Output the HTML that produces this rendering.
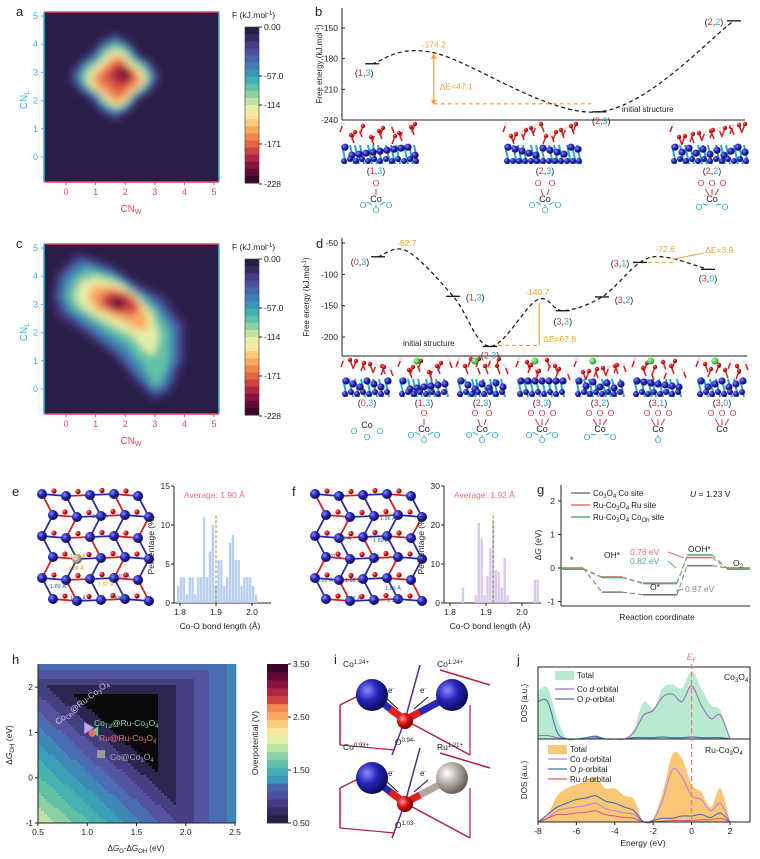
<!DOCTYPE html>
<html><head><meta charset="utf-8"><style>
html,body{margin:0;padding:0;background:#fff}
svg{display:block;font-family:"Liberation Sans",Arial,sans-serif}
</style></head><body>
<svg id="fig" width="760" height="859" viewBox="0 0 760 859" xmlns="http://www.w3.org/2000/svg">
<defs>
<filter id="blur6" x="-50%" y="-50%" width="200%" height="200%"><feGaussianBlur stdDeviation="4"/></filter>
<radialGradient id="gBlue" cx="35%" cy="35%" r="65%"><stop offset="0" stop-color="#8a8cff"/><stop offset="0.5" stop-color="#2626b8"/><stop offset="1" stop-color="#0b0b5e"/></radialGradient>
<radialGradient id="gRed" cx="35%" cy="35%" r="65%"><stop offset="0" stop-color="#ff9a9a"/><stop offset="0.5" stop-color="#e01010"/><stop offset="1" stop-color="#7a0000"/></radialGradient>
<radialGradient id="gGray" cx="35%" cy="35%" r="65%"><stop offset="0" stop-color="#ffffff"/><stop offset="0.5" stop-color="#b8b0a8"/><stop offset="1" stop-color="#6a625a"/></radialGradient>
<radialGradient id="gGreen" cx="35%" cy="35%" r="65%"><stop offset="0" stop-color="#b0ffb0"/><stop offset="1" stop-color="#20a020"/></radialGradient>
</defs>
</svg>
<script>
// ---------- DATA ----------
const palette = ['#2a1e48','#372a63','#453a86','#4d4f9f','#4866ad','#3f7fb4','#3a97b9','#43aeb4','#62c1a6','#8ed1a2','#bde3a3','#e5f0a6','#f8e7a0','#fbcb7c','#f9a960','#f3864f','#e56446','#cf4243','#b02642','#8a123e','#5e0a36','#3a0628'];
const cnTicks = [0,1,2,3,4,5];
const fTickLabels = ['0.00','-57.0','-114','-171','-228'];
const fTickPos = [27,76,105,144,184];
// panel b
const bStates = ['(1,3)','TS','(2,3)','(2,2)'];
const bRC = [0.45,1.37,3.84,5.85];
const bEnergy = [-185,-174.2,-232,-143];
const bTicks = [-150,-180,-210,-240];
// panel d
const dStates = ['(0,3)','TS1','(1,3)','(2,3)','TS2','(3,3)','(3,2)','(3,1)','TS3','(3,0)'];
const dRC = [0.9,1.62,2.78,3.7,4.88,5.52,6.5,7.45,8.08,9.15];
const dEnergy = [-72,-62.7,-135,-215,-140.7,-158,-136,-81,-72.6,-92];
const dTicks = [-50,-100,-150,-200];
// panel e/f histograms
const eBins = [1.795,1.803,1.811,1.819,1.827,1.835,1.843,1.851,1.859,1.867,1.875,1.883,1.891,1.899,1.907,1.915,1.923,1.931,1.939,1.947,1.955,1.963,1.971,1.979,1.987,1.995,2.003,2.011,2.019];
const eVals = [2.2,3.3,3.3,1.1,3.3,3.3,1.1,3.3,3.3,11,3.3,6.6,10,2.2,5.5,5.5,2.2,3.3,7.7,8.7,5.5,5.5,2.2,3.3,3.3,3.3,2.2,1.1,0];
const fBins = [1.836,1.872,1.880,1.888,1.896,1.904,1.912,1.920,1.928,1.936,1.944,1.952,1.960,2.036,2.044];
const fVals = [4,2,20.5,16.5,2,7,14,21,8.5,8,4,11.5,2,6,6];
const histXTicks = [1.8,1.9,2.0];
// panel g
const gSteps = ['*','OH*','O*','OOH*','O2'];
const gCo = [0,-0.72,-0.8,0.07,0];
const gRu = [0,-0.25,-0.43,0.33,0];
const gCoOh = [0,-0.25,-0.43,0.39,0];
const gYTicks = [2,1,0,-1];
// panel h
const hXTicks = [0.5,1.0,1.5,2.0,2.5];
const hYTicks = [2,1,0,-1];
const hLimits = [1.73,1.87,3.55];
const hPoints = [[1.0,1.1],[1.07,1.02],[1.05,0.98],[1.14,0.52]];
const hCbTicks = [3.5,2.5,1.5,0.5];
// panel j
const jE = [-8,-7.5,-7,-6.5,-6,-5.5,-5,-4.5,-4,-3.5,-3,-2.5,-2,-1.5,-1,-0.5,0,0.5,1,1.5,2];
const jTotA = [0.7,0.75,0.3,0,0,0.02,0.06,0,0,0,0.15,0.55,0.45,0.75,0.8,0.75,1.0,0.75,0.5,0.42,0];
const jCoA  = [0.05,0.05,0.02,0,0,0,0.02,0,0,0,0.1,0.35,0.42,0.62,0.66,0.55,0.78,0.5,0.3,0.35,0];
const jOA   = [0.55,0.55,0.1,0,0,0.02,0.04,0,0,0,0.02,0.02,0.02,0.03,0.02,0.02,0.03,0.02,0.02,0.02,0];
const jTotB = [0,0.1,0.35,0.45,0.5,0.55,0.6,0.45,0.45,0.35,0.3,0,0.05,0.4,0.9,0.85,0.5,0.4,0.2,0.45,0];
const jCoB  = [0,0.05,0.15,0.18,0.2,0.22,0.25,0.18,0.15,0.12,0.1,0,0.02,0.3,0.7,0.6,0.35,0.3,0.15,0.25,0];
const jOB   = [0,0.1,0.2,0.25,0.3,0.32,0.35,0.28,0.25,0.2,0.15,0,0.02,0.05,0.05,0.08,0.08,0.1,0.06,0.12,0];
const jRuB  = [0,0.05,0.1,0.1,0.12,0.13,0.15,0.1,0.08,0.06,0.05,0,0,0.01,0.02,0.02,0.02,0.03,0.03,0.05,0];
const jXTicks = [-8,-6,-4,-2,0,2];

// ---------- HELPERS ----------
const NS='http://www.w3.org/2000/svg';
const S=document.getElementById('fig');
function mk(tag,attrs,name,parent){
  const el=document.createElementNS(NS,tag);
  for(const k in attrs) el.setAttribute(k,attrs[k]);
  
  
  (parent||S).appendChild(el);return el;
}
function T(x,y,html,name,o){o=o||{};
  const el=mk('text',{x:x,y:y,'font-size':o.fs||9,fill:o.fill||'#222','text-anchor':o.a||'start'},name,o.p);
  if(o.rot) el.setAttribute('transform','rotate('+o.rot+' '+x+' '+y+')');
  if(o.fw) el.setAttribute('font-weight',o.fw);
  if(o.fst) el.setAttribute('font-style',o.fst);
  el.innerHTML=html;return el;}
function L(x1,y1,x2,y2,c,w,name,o){o=o||{};const e=mk('line',{x1:x1,y1:y1,x2:x2,y2:y2,stroke:c,'stroke-width':w||1},name,o.p);if(o.dash)e.setAttribute('stroke-dasharray',o.dash);return e;}
function crPath(pts){let d='M'+pts[0][0]+','+pts[0][1];
  for(let i=0;i<pts.length-1;i++){const p0=pts[Math.max(0,i-1)],p1=pts[i],p2=pts[i+1],p3=pts[Math.min(pts.length-1,i+2)];
    d+=' C'+(p1[0]+(p2[0]-p0[0])/6)+','+(p1[1]+(p2[1]-p0[1])/6)+' '+(p2[0]-(p3[0]-p1[0])/6)+','+(p2[1]-(p3[1]-p1[1])/6)+' '+p2[0]+','+p2[1];}
  return d;}
const RED='#d8304a',CY='#2aa6cf',OR='#f0a030';
function stateLabel(x,y,s,name,fs){const m=s.match(/\((\d),(\d)\)/);
  T(x,y,'(<tspan fill="'+RED+'">'+m[1]+'</tspan>,<tspan fill="'+CY+'">'+m[2]+'</tspan>)',name,{a:'middle',fs:fs||9});}
function panelLabel(x,y,s){T(x,y,s,'panel-label-'+s,{fs:13});}

// ---------- PANEL a / c heatmaps ----------
function heatPanel(y0,letter,layers){
  const xa=v=>66+v*29.6, ya=v=>y0+145-v*28.2;
  const g=mk('g',{},'heatmap-'+letter);
  mk('rect',{x:44,y:y0,width:175,height:170,fill:palette[0]},'heatmap-bg-'+letter,g);
  const clip=mk('clipPath',{id:'clip'+letter},'clip',g);
  mk('rect',{x:44,y:y0,width:175,height:170},'clip-rect',clip);
  const bg=mk('g',{filter:'url(#blur6)','clip-path':'url(#clip'+letter+')'},'free-energy-surface-'+letter,g);
  layers.forEach((ly,i)=>{
    mk('polygon',{points:ly.pts.map(p=>xa(p[0])+','+ya(p[1])).join(' '),fill:ly.c},'fes-contour',bg);
  });
  L(44,y0,219,y0,'#e04a5a',1.5,'top-axis-'+letter);L(44,y0+170,219,y0+170,'#e04a5a',1.5,'x-axis-'+letter);
  L(44,y0,44,y0+170,'#3ab4dc',1.5,'y-axis-'+letter);L(219,y0,219,y0+170,'#3ab4dc',1.5,'right-axis-'+letter);
  cnTicks.forEach(v=>{L(xa(v),y0+170,xa(v),y0+173,'#e04a5a',1,'x-tick');T(xa(v),y0+183,v,'x-tick-label',{a:'middle',fill:'#e04a5a'});
    L(41,ya(v),44,ya(v),'#3ab4dc',1,'y-tick');T(38,ya(v)+3,v,'y-tick-label',{a:'end',fill:'#3ab4dc'});});
  T(131,y0+200,'CN<tspan font-size="7" dy="2">W</tspan>','x-axis-title-'+letter,{a:'middle',fill:'#e04a5a',fs:10});
  T(27,y0+88,'CN<tspan font-size="7" dy="2">L</tspan>','y-axis-title-'+letter,{a:'middle',fill:'#3ab4dc',fs:10,rot:-90});
  const cy0=y0+15,ch=156;
  for(let i=0;i<palette.length;i++) mk('rect',{x:245,y:cy0+i*ch/palette.length,width:14,height:ch/palette.length+0.5,fill:palette[i]},'colorbar-band',g);
  mk('rect',{x:245,y:cy0,width:14,height:ch,fill:'none',stroke:'#333','stroke-width':0.6},'colorbar-frame',g);
  fTickLabels.forEach((s,i)=>{const yy=y0+fTickPos[i]-12;L(259,yy,262,yy,'#222',1,'colorbar-tick');T(264,yy+3,s,'colorbar-label',{fs:8.5});});
  T(232,y0+6,'F (kJ.mol<tspan font-size="6" dy="-3">-1</tspan><tspan dy="3">)</tspan>','colorbar-title',{fs:8.5});
  panelLabel(16,y0+4,letter);
}
function blob(cx,cy,r,sx,sy){const p=[];for(let i=0;i<16;i++){const a=i/16*Math.PI*2+Math.PI/4;const k=1+0.15*Math.cos(4*a);p.push([cx+r*sx*Math.cos(a)*k,cy+r*sy*Math.sin(a)*k]);}return p;}
heatPanel(12,'a',[
 {c:palette[2],pts:blob(1.65,2.85,1.35,1,1)},
 {c:palette[5],pts:blob(1.65,2.85,1.18,1,1)},
 {c:palette[8],pts:blob(1.68,2.85,1.05,1,1)},
 {c:palette[11],pts:blob(1.7,2.8,0.92,1,1)},
 {c:palette[14],pts:blob(1.72,2.75,0.76,1,1)},
 {c:palette[16],pts:blob(1.75,2.8,0.6,1,1)},
 {c:palette[18],pts:blob(1.85,2.9,0.38,1,1)},
 {c:palette[20],pts:blob(2.0,2.95,0.2,1,1)}]);
heatPanel(244,'c',[
 {c:palette[2],pts:[[-0.45,3.3],[-0.3,4.1],[0.4,4.8],[1.5,4.4],[2.5,3.7],[3.3,3.3],[4.0,2.3],[4.0,1.1],[3.6,0.0],[3.0,-0.4],[2.4,0.2],[1.6,1.2],[0.6,2.0],[-0.3,2.6]]},
 {c:palette[5],pts:[[-0.25,3.3],[-0.1,4.0],[0.5,4.55],[1.5,4.2],[2.4,3.55],[3.1,3.1],[3.75,2.2],[3.75,1.1],[3.4,0.1],[3.0,-0.15],[2.5,0.4],[1.8,1.3],[0.8,2.1],[0,2.75]]},
 {c:palette[8],pts:[[0,3.3],[0.2,3.9],[0.7,4.3],[1.6,4.0],[2.4,3.4],[3.0,2.9],[3.5,2.1],[3.5,1.0],[3.2,0.2],[2.95,0.1],[2.6,0.8],[2.0,1.6],[1.0,2.3],[0.2,2.85]]},
 {c:palette[11],pts:[[0.3,3.3],[0.5,3.8],[1.0,4.0],[1.8,3.75],[2.4,3.3],[2.9,2.7],[3.15,1.9],[3.0,1.2],[2.7,1.3],[2.2,1.9],[1.2,2.45],[0.5,2.9]]},
 {c:palette[14],pts:[[0.7,3.3],[1.0,3.7],[1.7,3.6],[2.3,3.3],[2.7,2.7],[2.8,2.1],[2.4,2.1],[1.7,2.5],[1.0,2.8]]},
 {c:palette[17],pts:[[1.1,3.25],[1.5,3.5],[2.1,3.4],[2.5,3.0],[2.3,2.6],[1.7,2.7],[1.2,2.95]]},
 {c:palette[20],pts:blob(1.75,3.05,0.25,1.2,0.8)}]);

// ---------- slabs (decorative structures) ----------
function slab(x,y,w,h,seed,green){
  const g=mk('g',{},'structure-snapshot');
  for(let i=0;i<w/6;i++){const xx=x+i*6+((i*seed)%3);
    L(xx,y+h*0.55,xx+4,y+h,'#2aa6cf',2,'bond',{p:g});}
  for(let i=0;i<w/7;i++){const xx=x+3+i*7, yy=y+h*0.6+((i*seed*7)%9);
    mk('circle',{cx:xx,cy:yy,r:3.6,fill:'url(#gBlue)'},'co-atom',g);}
  for(let i=0;i<w/6;i++){const xx=x+2+i*6, yy=y+h-3-((i*seed)%2)*2;
    mk('circle',{cx:xx,cy:yy,r:3,fill:'url(#gBlue)'},'co-atom',g);}
  for(let i=0;i<w/5;i++){const xx=x+1+i*5+((i*seed*3)%4), yy=y+2+((i*seed*5)%14);
    L(xx,yy,xx+((i%2)?3:-3),yy+8,'#cc2020',1.5,'bond',{p:g});
    mk('circle',{cx:xx,cy:yy,r:2.2,fill:(i%3==0)?'#f0e8e8':'url(#gRed)'},'o-atom',g);}
  if(green) mk('circle',{cx:x+w*0.35,cy:y+4,r:3.5,fill:'url(#gGreen)'},'ru-atom',g);
}
function coDiagram(cx,y,nRed,nCy,name){
  const g=mk('g',{},name);
  const redX=nRed==1?[0]:nRed==2?[-7,7]:[-11,0,11];
  redX.forEach(dx=>{T(cx+dx,y,'O','o-red',{a:'middle',fill:RED,fs:8.5,p:g});L(cx+dx*0.6,y+3,cx+dx*0.3,y+9,RED,1,'bond',{p:g});});
  T(cx,y+16,'Co','co-center',{a:'middle',fs:9,p:g});
  const cyX=nCy==3?[[-13,22],[0,27],[13,22]]:nCy==2?[[-13,24],[13,24]]:nCy==1?[[0,27]]:[];
  cyX.forEach(p=>{T(cx+p[0],y+p[1],'O','o-cyan',{a:'middle',fill:CY,fs:8.5,p:g});L(cx+p[0]*0.3,y+19,cx+p[0]*0.7,y+p[1]-6,CY,1,'bond',{p:g});});
}

// ---------- PANEL b ----------
(function(){
  const xb=r=>342+r*67, yb=v=>120-(v+240)*(92/90);
  panelLabel(315,16,'b');
  L(342,8,342,120,'#222',1,'y-axis-b');L(342,120,745,120,'#222',1,'x-axis-b');
  bTicks.forEach(v=>{L(342,yb(v),345,yb(v),'#222',1,'y-tick');T(338,yb(v)+3,v,'y-tick-label',{a:'end',fs:8.5});});
  T(322,64,'Free energy (kJ.mol<tspan font-size="6" dy="-3">-1</tspan><tspan dy="3">)</tspan>','y-axis-title-b',{a:'middle',fs:8,rot:-90});
  const pts=bRC.map((r,i)=>[xb(r),yb(bEnergy[i])]);
  mk('path',{d:crPath(pts),fill:'none',stroke:'#111','stroke-width':1.2,'stroke-dasharray':'4,3'},'energy-profile-b');
  pts.forEach((p,i)=>{if(bStates[i]!='TS') L(p[0]-7,p[1],p[0]+7,p[1],'#111',1.3,'state-level');});
  stateLabel(pts[0][0]-8,pts[0][1]+12,'(1,3)','state-label');
  stateLabel(pts[2][0]+2,pts[2][1]+12,'(2,3)','state-label');
  stateLabel(pts[3][0]-20,pts[3][1]+4,'(2,2)','state-label');
  T(pts[1][0],pts[1][1]-5,bEnergy[1],'barrier-value',{a:'middle',fill:OR,fs:8.5});
  mk('path',{d:'M'+pts[1][0]+','+(pts[1][1]+2)+' V'+(pts[2][1]-8),stroke:OR,'stroke-width':1.2,fill:'none'},'delta-e-arrow');
  mk('polygon',{points:(pts[1][0]-3)+','+(pts[1][1]+6)+' '+(pts[1][0]+3)+','+(pts[1][1]+6)+' '+pts[1][0]+','+(pts[1][1]+1),fill:OR},'arrow-head');
  mk('polygon',{points:(pts[1][0]-3)+','+(pts[2][1]-12)+' '+(pts[1][0]+3)+','+(pts[2][1]-12)+' '+pts[1][0]+','+(pts[2][1]-7),fill:OR},'arrow-head');
  L(pts[1][0],pts[2][1]-8,pts[2][0]-8,pts[2][1]-8,OR,1.2,'delta-e-ref',{dash:'4,3'});
  T(pts[1][0]+6,pts[1][1]+37,'ΔE=47.1','delta-e-label',{fill:OR,fs:8.5});
  T(622,112,'initial structure','initial-structure-label',{fs:8});
  [[342,1],[505,2],[672,3]].forEach(s=>slab(s[0],122,74,42,s[1]*3+2,false));
  stateLabel(376,174,'(1,3)','structure-label');stateLabel(545,174,'(2,3)','structure-label');stateLabel(712,174,'(2,2)','structure-label');
  coDiagram(376,186,1,3,'coordination-1-3');coDiagram(545,186,2,3,'coordination-2-3');coDiagram(712,186,3,2,'coordination-2-2');
})();

// ---------- PANEL d ----------
(function(){
  const xd=r=>342+r*40, yd=v=>243-(v+50)*0.627;
  panelLabel(316,248,'d');
  L(342,238,342,356,'#222',1,'y-axis-d');L(342,356,747,356,'#222',1,'x-axis-d');
  dTicks.forEach(v=>{L(342,yd(v),345,yd(v),'#222',1,'y-tick');T(338,yd(v)+3,v,'y-tick-label',{a:'end',fs:8.5});});
  T(309,297,'Free energy (kJ.mol<tspan font-size="6" dy="-3">-1</tspan><tspan dy="3">)</tspan>','y-axis-title-d',{a:'middle',fs:8,rot:-90});
  const pts=dRC.map((r,i)=>[xd(r),yd(dEnergy[i])]);
  mk('path',{d:crPath(pts),fill:'none',stroke:'#111','stroke-width':1.2,'stroke-dasharray':'4,3'},'energy-profile-d');
  pts.forEach((p,i)=>{if(dStates[i].indexOf('TS')<0) L(p[0]-7,p[1],p[0]+7,p[1],'#111',1.3,'state-level');});
  const off={'(0,3)':[-18,8],'(1,3)':[22,4],'(2,3)':[0,12],'(3,3)':[0,14],'(3,2)':[22,6],'(3,1)':[-20,4],'(3,0)':[0,12]};
  pts.forEach((p,i)=>{const s=dStates[i];if(off[s]) stateLabel(p[0]+off[s][0],p[1]+off[s][1],s,'state-label');});
  [1,4,8].forEach(i=>T(pts[i][0],pts[i][1]-5,dEnergy[i],'barrier-value',{a:'middle',fill:OR,fs:8.5}));
  const ax=pts[4][0]+2;
  L(ax,pts[4][1]+3,ax,pts[3][1]-1,OR,1.2,'delta-e-arrow');
  L(pts[3][0]+8,pts[3][1]-1,ax,pts[3][1]-1,OR,1.2,'delta-e-ref',{dash:'4,3'});
  T(ax+4,pts[4][1]+42,'ΔE=67.8','delta-e-label',{fill:OR,fs:8.5});
  L(pts[7][0]+8,pts[7][1],pts[8][0]+10,pts[7][1],OR,1,'delta-e-ref',{dash:'4,3'});
  L(pts[8][0]+8,pts[8][1]+2,pts[8][0]+38,pts[8][1]-4,OR,1,'delta-e-arrow');
  T(pts[8][0]+40,pts[8][1]-4,'ΔE=3.9','delta-e-label',{fill:OR,fs:8.5});
  T(403,346,'initial structure','initial-structure-label',{fs:8});
  const cx=[367,424,482,542,600,658,722];
  const nm=['(0,3)','(1,3)','(2,3)','(3,3)','(3,2)','(3,1)','(3,0)'];
  const nr=[0,1,2,3,3,3,3], nc=[3,3,3,3,2,1,0];
  cx.forEach((c,i)=>{slab(c-24,357,48,40,i*2+3,i>0);stateLabel(c,406,nm[i],'structure-label');
    if(nr[i]==0){const g=mk('g',{},'coordination-0-3');T(c,428,'Co','co-center',{a:'middle',fs:9,p:g});
      [[-13,434],[0,440],[13,434]].forEach(p=>T(c+p[0],p[1],'O','o-cyan',{a:'middle',fill:CY,fs:8.5,p:g}));}
    else coDiagram(c,416,nr[i],nc[i],'coordination-'+nm[i]);});
})();

// ---------- lattice structures e/f ----------
function lattice(x0,y0,w,h,seed,special){
  const g=mk('g',{},'lattice-structure');
  const nodes=[];
  for(let r=0;r<6;r++)for(let c=0;c<5;c++){nodes.push([x0+12+c*24+(r%2)*11,y0+10+r*21+((c*seed)%3)]);}
  nodes.forEach((n,i)=>{const c=i%5;
    if(c<4) L(n[0],n[1],nodes[i+1][0],nodes[i+1][1],i%2?'#d02020':'#2a2aa0',1.8,'bond',{p:g});
    if(i+5<nodes.length) L(n[0],n[1],nodes[i+5][0],nodes[i+5][1],i%3?'#2a2aa0':'#d02020',1.8,'bond',{p:g});});
  nodes.forEach((n,i)=>{const o=nodes[i+1]||n; if(i%5<4) mk('circle',{cx:(n[0]+o[0])/2,cy:(n[1]+o[1])/2-4,r:2.6,fill:'url(#gRed)'},'o-atom',g);});
  nodes.forEach((n,i)=>{mk('circle',{cx:n[0],cy:n[1],r:5,fill:(special&&i==16)?'url(#gGray)':'url(#gBlue)'},'metal-atom',g);});
}
function bondLabels(x0,y0,items){items.forEach(it=>T(x0+it[0],y0+it[1],it[2],'bond-length-label',{fs:5.5,fill:it[3]||'#2a5aa8'}));}

// ---------- PANEL e / f histograms ----------
function hist(x0,letter,bins,vals,ymax,yticks,avg,col){
  const X0=x0, xs=v=>X0+6+(v-1.8)*360, ys=v=>603-v*(117/ymax);
  L(X0,486,X0,603,'#222',1,'y-axis-'+letter);L(X0,603,X0+97,603,'#222',1,'x-axis-'+letter);
  yticks.forEach(v=>{L(X0-3,ys(v),X0,ys(v),'#222',1,'y-tick');T(X0-4,ys(v)+3,v,'y-tick-label',{a:'end',fs:8.5});});
  histXTicks.forEach(v=>{L(xs(v),603,xs(v),606,'#222',1,'x-tick');T(xs(v),615,v.toFixed(1),'x-tick-label',{a:'middle',fs:8.5});});
  bins.forEach((b,i)=>mk('rect',{x:xs(b)-1.2,y:ys(vals[i]),width:2.4,height:603-ys(vals[i]),fill:col},'histogram-bar'));
  L(xs(avg),ys(ymax*0.75),xs(avg),603,'#6aa030',1,'average-line',{dash:'3,2'});
  T(X0+10,498,'Average: '+avg.toFixed(2)+' Å','average-label',{fill:'#e87070',fs:8.5});
  T(X0+46,629,'Co-O bond length (Å)','x-axis-title-'+letter,{a:'middle',fs:8.5});
  T(X0-20,545,'Percentage (%)','y-axis-title-'+letter,{a:'middle',fs:8.5,rot:-90});
}
panelLabel(12,496,'e');
lattice(30,484,110,125,2,true);
bondLabels(30,482,[[62,36,'1.89 Å'],[40,76,'1.95 Å','#e0a000'],[38,88,'1.88 Å','#e0a000'],[68,104,'1.97 Å','#e0a000'],[84,96,'1.91 Å'],[20,106,'1.89 Å'],[40,118,'1.91 Å'],[80,118,'1.88 Å']]);
hist(174,'e',eBins,eVals,15,[0,5,10,15],1.90,'#b8d0ee');
panelLabel(292,496,'f');
lattice(303,484,110,125,5,false);
bondLabels(305,482,[[75,38,'1.96 Å'],[30,58,'1.89 Å'],[68,60,'1.89 Å'],[20,76,'1.91 Å'],[12,100,'1.92 Å'],[40,100,'1.89 Å'],[40,118,'1.92 Å'],[80,108,'1.89 Å'],[82,120,'1.96 Å']]);
hist(444,'f',fBins,fVals,30,[0,10,20,30],1.92,'#dcc8ec');

// ---------- PANEL g ----------
(function(){
  const yg=v=>568-v*33.5;
  const sx=[[561,583],[602,622],[643,677],[687,712],[727,750]];
  panelLabel(537,494,'g');
  L(561,485,561,606,'#222',1,'y-axis-g');L(561,606,750,606,'#222',1,'x-axis-g');
  gYTicks.forEach(v=>{L(558,yg(v),561,yg(v),'#222',1,'y-tick');T(555,yg(v)+3,v,'y-tick-label',{a:'end',fs:8.5});});
  T(541,545,'Δ<tspan font-style="italic">G</tspan> (eV)','y-axis-title-g',{a:'middle',fs:8.5,rot:-90});
  T(657,620,'Reaction coordinate','x-axis-title-g',{a:'middle',fs:8.5});
  [[gCo,'#7a7a7a','co3o4-co-site'],[gRu,'#e07070','ru-site'],[gCoOh,'#50b070','co-oh-site']].forEach((s,si)=>{
    s[0].forEach((v,i)=>{const dy=si==2&&i==3?0:si*0.6;
      L(sx[i][0],yg(v)+dy,sx[i][1],yg(v)+dy,s[1],1.6,'level-'+s[2]);
      if(i<4) L(sx[i][1],yg(v)+dy,sx[i+1][0],yg(s[0][i+1])+dy,s[1],1,'connector-'+s[2],{dash:'5,3'});});
  });
  [['Co<tspan font-size="6" dy="2">3</tspan><tspan dy="-2">O</tspan><tspan font-size="6" dy="2">4</tspan><tspan dy="-2"> Co site</tspan>','#7a7a7a',496],
   ['Ru-Co<tspan font-size="6" dy="2">3</tspan><tspan dy="-2">O</tspan><tspan font-size="6" dy="2">4</tspan><tspan dy="-2"> Ru site</tspan>','#e07070',508],
   ['Ru-Co<tspan font-size="6" dy="2">3</tspan><tspan dy="-2">O</tspan><tspan font-size="6" dy="2">4</tspan><tspan dy="-2"> Co</tspan><tspan font-size="6" dy="2">Oh</tspan><tspan dy="-2"> site</tspan>','#50b070',520]].forEach(l=>{
    L(571,l[2]-3,590,l[2]-3,l[1],1.5,'legend-swatch');T(593,l[2],l[0],'legend-label',{fs:8});});
  T(690,497,'<tspan font-style="italic">U</tspan> = 1.23 V','potential-label',{fs:8.5});
  T(570,563,'*','label-star',{fs:9});T(604,558,'OH*','label-oh',{fs:8.5});T(650,590,'O*','label-o',{fs:8.5});
  T(688,552,'OOH*','label-ooh',{fs:8.5});T(733,566,'O<tspan font-size="6" dy="2">2</tspan>','label-o2',{fs:8.5});
  T(630,555,'0.76 eV','ru-barrier',{fill:'#e07070',fs:8.5});T(630,564,'0.82 eV','co-oh-barrier',{fill:'#50b070',fs:8.5});
  T(685,592,'0.87 eV','co-barrier',{fill:'#8a8a8a',fs:8.5});
  L(668,552,684,558,'#e07070',1,'pointer');L(668,561,676,568,'#50b070',1,'pointer');L(683,589,676,591,'#8a8a8a',1,'pointer');
})();

// ---------- PANEL h ----------
(function(){
  const xh=v=>38+(v-0.5)*98.5, yh=v=>823-(v+1)*45.3;
  const ixh=p=>0.5+(p-38)/98.5, iyh=p=>(823-p)/45.3-1;
  const hcol=['#0a0a0c','#2b2550','#45407f','#5454a0','#4a6cb0','#3f88b6','#3aa0b8','#45b2ae','#62c0a6','#8ed0a2','#c0e2a4','#eaf0a8','#f6f0b0','#f8f0b8'];
  panelLabel(12,664,'h');
  const g=mk('g',{},'overpotential-map');
  const st=3;
  for(let px=38;px<235;px+=st)for(let py=664;py<823;py+=st){
    const x=ixh(px+st/2),y=iyh(py+st/2);
    const gv=Math.max(x-hLimits[0],y-hLimits[1],(hLimits[2]-2*x-y)/2.1);
    const k=gv<0?0:Math.min(hcol.length-1,1+Math.floor(gv/0.17));
    mk('rect',{x:px,y:py,width:st+0.3,height:st+0.3,fill:hcol[k]},'map-cell',g);}
  L(38,664,38,823,'#222',1,'y-axis-h');L(38,823,235,823,'#222',1,'x-axis-h');
  hXTicks.forEach(v=>{L(xh(v),823,xh(v),826,'#222',1,'x-tick');T(xh(v),835,v.toFixed(1),'x-tick-label',{a:'middle',fs:8.5});});
  hYTicks.forEach(v=>{L(35,yh(v),38,yh(v),'#222',1,'y-tick');T(33,yh(v)+3,v,'y-tick-label',{a:'end',fs:8.5});});
  T(136,851,'Δ<tspan font-style="italic">G</tspan><tspan font-size="6" dy="2">O</tspan><tspan dy="-2">-Δ</tspan><tspan font-style="italic">G</tspan><tspan font-size="6" dy="2">OH</tspan><tspan dy="-2"> (eV)</tspan>','x-axis-title-h',{a:'middle',fs:8,});
  T(12,745,'Δ<tspan font-style="italic">G</tspan><tspan font-size="6" dy="2">OH</tspan><tspan dy="-2"> (eV)</tspan>','y-axis-title-h',{a:'middle',fs:8.5,rot:-90});
  const p=hPoints;
  mk('polygon',{points:(xh(p[0][0])-3)+','+(yh(p[0][1])-6)+' '+(xh(p[0][0])-3)+','+(yh(p[0][1])+6)+' '+(xh(p[0][0])+7)+','+yh(p[0][1]),fill:'#c8a0e8'},'point-co-oh');
  mk('polygon',{points:(xh(p[1][0])+4)+','+(yh(p[1][1])-5)+' '+(xh(p[1][0])+4)+','+(yh(p[1][1])+5)+' '+(xh(p[1][0])-4)+','+yh(p[1][1]),fill:'#70c890'},'point-co-td');
  mk('circle',{cx:xh(p[2][0]),cy:yh(p[2][1]),r:3.5,fill:'#f07060'},'point-ru');
  mk('rect',{x:xh(p[3][0])-4,y:yh(p[3][1])-4,width:8,height:8,fill:'#999'},'point-co3o4');
  T(58,725,'Co<tspan font-size="6" dy="2">Oh</tspan><tspan dy="-2">@Ru-Co</tspan><tspan font-size="6" dy="2">3</tspan><tspan dy="-2">O</tspan><tspan font-size="6" dy="2">4</tspan>','label-co-oh',{fill:'#d8c0f0',fs:8.5,rot:-38});
  T(94,726,'Co<tspan font-size="6" dy="2">Td</tspan><tspan dy="-2">@Ru-Co</tspan><tspan font-size="6" dy="2">3</tspan><tspan dy="-2">O</tspan><tspan font-size="6" dy="2">4</tspan>','label-co-td',{fill:'#80e0a0',fs:8.5});
  T(99,741,'Ru@Ru-Co<tspan font-size="6" dy="2">3</tspan><tspan dy="-2">O</tspan><tspan font-size="6" dy="2">4</tspan>','label-ru',{fill:'#f07070',fs:8.5});
  T(110,760,'Co@Co<tspan font-size="6" dy="2">3</tspan><tspan dy="-2">O</tspan><tspan font-size="6" dy="2">4</tspan>','label-co3o4',{fill:'#a8a8a8',fs:8.5});
  const n=20;
  for(let i=0;i<n;i++){const c=palette[Math.round(i*(palette.length-1)/(n-1))];
    mk('rect',{x:267,y:823-(i+1)*(159/n),width:21,height:159/n+0.4,fill:c},'colorbar-band');}
  hCbTicks.forEach(v=>{const yy=823-(v-0.5)*53;L(288,yy,291,yy,'#222',1,'colorbar-tick');T(293,yy+3,v.toFixed(2),'colorbar-label',{fs:8.5});});
  T(258,743,'Overpotential (V)','colorbar-title',{a:'middle',fs:8.5,rot:-90});
})();

// ---------- PANEL i ----------
(function(){
  panelLabel(334,664,'i');
  function unit(yo,rightGray,labs){
    const g=mk('g',{},'charge-transfer-'+(rightGray?'ru':'co'));
    L(340,yo+10,360,yo,'#b02040',1.5,'lattice-bond',{p:g});L(340,yo+10,340,yo+50,'#b02040',1.5,'lattice-bond',{p:g});
    L(405,yo+25,420,yo-30,'#5a2a90',1.5,'lattice-bond',{p:g});L(405,yo+25,392,yo+60,'#5a2a90',1.5,'lattice-bond',{p:g});
    L(405,yo+25,470,yo+60,'#b02040',1.5,'lattice-bond',{p:g});L(440,yo-25,490,yo-10,'#b02040',1.5,'lattice-bond',{p:g});
    L(470,yo+10,470,yo+60,'#b02040',1.2,'lattice-bond',{p:g});L(340,yo+50,395,yo+55,'#b02040',1.2,'lattice-bond',{p:g});
    mk('line',{x1:372,y1:yo,x2:405,y2:yo+25,stroke:'#2a2ab0','stroke-width':7,'stroke-linecap':'round'},'co-o-bond',g);
    mk('line',{x1:452,y1:yo,x2:405,y2:yo+25,stroke:rightGray?'#b0a8a0':'#2a2ab0','stroke-width':7,'stroke-linecap':'round'},'m-o-bond',g);
    mk('line',{x1:390,y1:yo+14,x2:405,y2:yo+25,stroke:'#e02020','stroke-width':7},'o-bond',g);
    mk('line',{x1:420,y1:yo+17,x2:405,y2:yo+25,stroke:'#e02020','stroke-width':7},'o-bond',g);
    mk('circle',{cx:372,cy:yo,r:16,fill:'url(#gBlue)'},'co-atom',g);
    mk('circle',{cx:452,cy:yo,r:16,fill:rightGray?'url(#gGray)':'url(#gBlue)'},rightGray?'ru-atom':'co-atom',g);
    mk('circle',{cx:405,cy:yo+26,r:8,fill:'url(#gRed)'},'o-atom',g);
    L(385,yo+2,398,yo+14,'#111',1,'electron-arrow',{p:g});L(428,yo+2,414,yo+14,'#111',1,'electron-arrow',{p:g});
    T(388,yo-2,'e<tspan font-size="5" dy="-3">-</tspan>','electron-label',{fs:8,p:g});T(420,yo-2,'e<tspan font-size="5" dy="-3">-</tspan>','electron-label',{fs:8,p:g});
    T(356,yo-28,labs[0],'charge-label',{a:'middle',fs:8.5,p:g});T(450,yo-28,labs[1],'charge-label',{a:'middle',fs:8.5,p:g});
    T(405,yo+50,labs[2],'charge-label',{a:'middle',fs:8.5,p:g});
  }
  unit(695,false,['Co<tspan font-size="6" dy="-3">1.24+</tspan>','Co<tspan font-size="6" dy="-3">1.24+</tspan>','O<tspan font-size="6" dy="-3">0.94-</tspan>']);
  unit(778,true,['Co<tspan font-size="6" dy="-3">0.93+</tspan>','Ru<tspan font-size="6" dy="-3">1.21+</tspan>','O<tspan font-size="6" dy="-3">1.03-</tspan>']);
})();

// ---------- PANEL j ----------
(function(){
  const xj=v=>538+(v+8)*19.2, yA=v=>739-v*68, yB=v=>822-v*75;
  panelLabel(517,664,'j');
  function area(ys,vals,fill,name){let d='M'+xj(jE[0])+','+ys(0);
    const pts=jE.map((e,i)=>[xj(e),ys(vals[i])]);d+=' L'+pts[0][0]+','+pts[0][1]+crPath(pts).replace(/^M[^C]*/,' ')+' L'+xj(jE[jE.length-1])+','+ys(0)+' Z';
    mk('path',{d:d,fill:fill,stroke:'none'},name);}
  function line(ys,vals,c,name){mk('path',{d:crPath(jE.map((e,i)=>[xj(e),ys(vals[i])])),fill:'none',stroke:c,'stroke-width':1.1},name);}
  area(yA,jTotA,'#b8ead0','dos-total-co3o4');line(yA,jCoA,'#a070c0','dos-co-d-co3o4');line(yA,jOA,'#4070a8','dos-o-p-co3o4');
  area(yB,jTotB,'#f8c878','dos-total-ru');line(yB,jCoB,'#c080e0','dos-co-d-ru');line(yB,jOB,'#4070a8','dos-o-p-ru');line(yB,jRuB,'#e05a70','dos-ru-d');
  mk('rect',{x:538,y:667,width:212,height:155,fill:'none',stroke:'#222','stroke-width':1},'dos-frame');
  L(538,739,750,739,'#222',1,'panel-divider');
  L(xj(0),664,xj(0),822,'#f08080',1.3,'fermi-level',{dash:'5,3'});
  T(xj(0),660,'<tspan font-style="italic">E</tspan><tspan font-size="6" dy="2">F</tspan>','fermi-label',{a:'middle',fill:'#f08080',fs:9});
  jXTicks.forEach(v=>{L(xj(v),822,xj(v),825,'#222',1,'x-tick');T(xj(v),834,v,'x-tick-label',{a:'middle',fs:8.5});});
  T(643,846,'Energy (eV)','x-axis-title-j',{a:'middle',fs:8.5});
  T(527,703,'DOS (a.u.)','y-axis-title-top',{a:'middle',fs:8,rot:-90});T(527,780,'DOS (a.u.)','y-axis-title-bottom',{a:'middle',fs:8,rot:-90});
  T(724,680,'Co<tspan font-size="6" dy="2">3</tspan><tspan dy="-2">O</tspan><tspan font-size="6" dy="2">4</tspan>','label-co3o4',{fs:8.5});
  T(705,753,'Ru-Co<tspan font-size="6" dy="2">3</tspan><tspan dy="-2">O</tspan><tspan font-size="6" dy="2">4</tspan>','label-ru-co3o4',{fs:8.5});
  mk('rect',{x:555,y:671,width:19,height:9,fill:'#b8ead0'},'legend-swatch-total');T(577,678,'Total','legend-label',{fs:8});
  L(555,689,574,689,'#a070c0',1.2,'legend-swatch');T(577,692,'Co <tspan font-style="italic">d</tspan>-orbital','legend-label',{fs:8});
  L(555,699,574,699,'#4070a8',1.2,'legend-swatch');T(577,702,'O <tspan font-style="italic">p</tspan>-orbital','legend-label',{fs:8});
  mk('rect',{x:548,y:745,width:19,height:9,fill:'#f8c878'},'legend-swatch-total');T(570,752,'Total','legend-label',{fs:8});
  L(548,759,567,759,'#c080e0',1.2,'legend-swatch');T(570,762,'Co <tspan font-style="italic">d</tspan>-orbital','legend-label',{fs:8});
  L(548,769,567,769,'#4070a8',1.2,'legend-swatch');T(570,772,'O <tspan font-style="italic">p</tspan>-orbital','legend-label',{fs:8});
  L(548,779,567,779,'#e05a70',1.2,'legend-swatch');T(570,782,'Ru <tspan font-style="italic">d</tspan>-orbital','legend-label',{fs:8});
})();
</script>
</body></html>
